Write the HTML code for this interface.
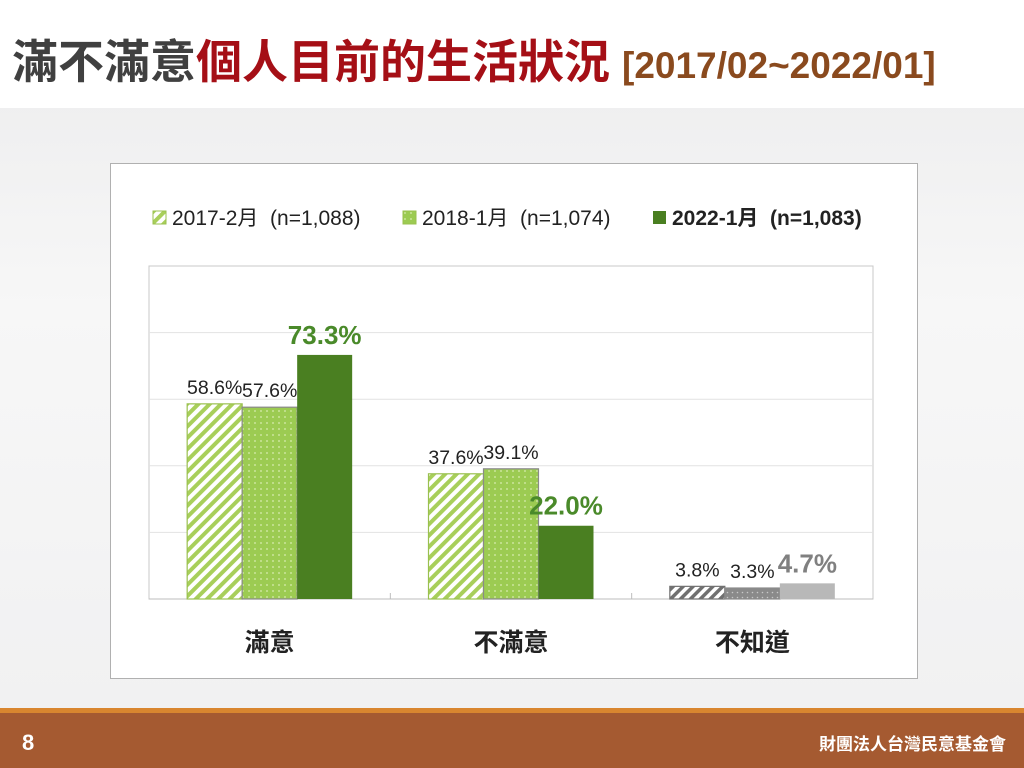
<!DOCTYPE html>
<html><head><meta charset="utf-8"><style>
body{margin:0;width:1024px;height:768px;overflow:hidden;position:relative;font-family:"Liberation Sans","Noto Sans CJK TC",sans-serif;background:linear-gradient(180deg,#ebebec 0%,#f7f7f7 40%,#f0f0f1 100%);}
#top{position:absolute;left:0;top:0;width:1024px;height:108px;background:#fff;}
#title{position:absolute;left:12px;top:32px;font-size:46px;font-weight:bold;color:#404040;white-space:nowrap;line-height:60px}
#title .r{color:#a50f16}
#title .s{font-size:37px;color:#8a4a1e;margin-left:12px}
#frame{position:absolute;left:110px;top:163px;width:806px;height:514px;background:#fff;border:1px solid #b0b0b0;}
#foot1{position:absolute;left:0;top:708px;width:1024px;height:5px;background:#d9862f}
#foot2{position:absolute;left:0;top:713px;width:1024px;height:55px;background:#a55a31}
#pg{position:absolute;left:22px;top:730px;color:#fff;font-size:22px;font-weight:bold}
#org{position:absolute;right:18px;top:730px;color:#fff;font-size:17px;font-weight:bold}
svg{position:absolute;left:0;top:0}
</style></head><body>
<div id="top"></div>
<div id="title">滿不滿意<span class="r">個人目前的生活狀況</span><span class="s">[2017/02~2022/01]</span></div>
<div id="frame"></div>
<div id="foot1"></div>
<div id="foot2"></div>
<div id="pg">8</div>
<div id="org">財團法人台灣民意基金會</div>
<svg id="chart" width="1024" height="768">
<defs>
<pattern id="hatchG" width="8" height="8" patternUnits="userSpaceOnUse" patternTransform="rotate(45)"><rect width="8" height="8" fill="#fff"/><rect width="4" height="8" fill="#a8cf5a"/></pattern>
<pattern id="dotG" width="6" height="6" patternUnits="userSpaceOnUse"><rect width="6" height="6" fill="#9ccb52"/><circle cx="3" cy="3" r="0.9" fill="#d8ecb0"/></pattern>
<pattern id="hatchK" width="7" height="7" patternUnits="userSpaceOnUse" patternTransform="rotate(45)"><rect width="7" height="7" fill="#fff"/><rect width="3.5" height="7" fill="#707070"/></pattern>
<pattern id="dotK" width="5" height="5" patternUnits="userSpaceOnUse"><rect width="5" height="5" fill="#8a8a8a"/><circle cx="2.5" cy="2.5" r="0.8" fill="#c8c8c8"/></pattern>
</defs>
</svg>
<script>
const categories=["滿意","不滿意","不知道"];
const seriesNames=["2017-2月  (n=1,088)","2018-1月  (n=1,074)","2022-1月  (n=1,083)"];
const s2017=[58.6,37.6,3.8];
const s2018=[57.6,39.1,3.3];
const s2022=[73.3,22.0,4.7];
const yTicks=[0,20,40,60,80,100];
const NS="http://www.w3.org/2000/svg";
const svg=document.getElementById('chart');
const X0=149,X1=873,Y0=599,Y1=266;
const y=v=>Y0-(v/100)*(Y0-Y1);
const cw=(X1-X0)/categories.length;
const bw=55;
const bx=(ci,si)=>X0+cw*ci+cw/2-1.5*bw+si*bw;
function mk(t,a){const e=document.createElementNS(NS,t);for(const k in a)e.setAttribute(k,a[k]);svg.appendChild(e);return e;}
let pb=mk('rect',{x:X0,y:Y1,width:X1-X0,height:Y0-Y1,fill:'#fff',stroke:'#c8c8c8'});


yTicks.forEach(t=>{if(t===0||t===100)return;const g=mk('line',{x1:X0,x2:X1,y1:y(t),y2:y(t),stroke:'#e2e2e2'});

});
const ax=mk('line',{x1:X0,x2:X1,y1:Y0,y2:Y0,stroke:'#bdbdbd'});


for(let i=1;i<categories.length;i++){const tk=mk('line',{x1:X0+cw*i,x2:X0+cw*i,y1:Y0-6,y2:Y0,stroke:'#bdbdbd'});

}
const series=[s2017,s2018,s2022];
const fills=[["url(#hatchG)","url(#dotG)","#4a7f21"],["url(#hatchG)","url(#dotG)","#4a7f21"],["url(#hatchK)","url(#dotK)","#b8b8b8"]];
const strokes=[["#9ac04f","#8a8a8a","none"],["#9ac04f","#8a8a8a","none"],["#707070","#8a8a8a","none"]];
categories.forEach((c,ci)=>{
 series.forEach((s,si)=>{
  const v=s[ci];
  const r=mk('rect',{x:bx(ci,si),y:y(v),width:bw,height:Y0-y(v),fill:fills[ci][si],stroke:strokes[ci][si],'stroke-width':1.2});
  
  
  const big=si===2;
  const t=mk('text',{x:bx(ci,si)+bw/2,y:y(v)-(big?11:10),'text-anchor':'middle','font-size':big?26:19.5,'font-weight':big?'bold':'normal',fill:big?(ci===2?'#808080':'#4a8a2a'):'#222'});
  t.textContent=v.toFixed(1)+'%';
  
  
 });
 const ct=mk('text',{x:X0+cw*ci+cw/2,y:651,'text-anchor':'middle','font-size':25,'font-weight':'bold',fill:'#222'});
 ct.textContent=c;
 
 
});
const lx=[153,403,653],lf=["url(#hatchG)","url(#dotG)","#4a7f21"];
seriesNames.forEach((n,i)=>{
 const r=mk('rect',{x:lx[i],y:211,width:13,height:13,fill:lf[i],stroke:i<2?'#9ac04f':'none'});
 
 
 const t=mk('text',{x:lx[i]+19,y:225,'font-size':21,'font-weight':i===2?'bold':'normal',fill:'#222'});
 t.style.whiteSpace='pre';
 t.textContent=n;
 
 
});
</script>
</body></html>
